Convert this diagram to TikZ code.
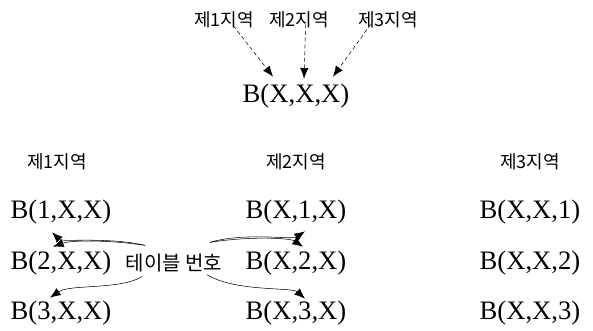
\documentclass[tikz,border=0pt]{standalone}
\usepackage{fontspec}
\setmainfont{Liberation Serif}
\newfontfamily\hangul{Noto Sans CJK KR}
\usetikzlibrary{arrows.meta,positioning}

\begin{document}
\begin{tikzpicture}[
    x=0.75pt,y=-0.75pt,
    region/.style={inner sep=1pt,font=\hangul\fontsize{13.5}{15}\selectfont},
    bset/.style={inner sep=0pt,font=\fontsize{20}{24}\selectfont},
    darr/.style={-{Latex[length=2.8mm,width=2.2mm]},densely dashed,thin},
    carr/.style={-{Latex[length=2.8mm,width=2.2mm]},thin}
  ]
    \useasboundingbox (0,0) rectangle (593,331);
    % top: the three regions point to the full table
    \node[region] (t1) at (224,20) {제1지역};
    \node[region] (t2) at (299,20) {제2지역};
    \node[region] (t3) at (388,20) {제3지역};
    \node[bset] (top) at (296,96) {B(X,X,X)};
    \draw[darr] ([xshift=7,yshift=3]t1.south) -- ([shift={(-23,-7)}]top.north);
    \draw[darr] ([xshift=5,yshift=4]t2.south) -- ([shift={(8,-5)}]top.north);
    \draw[darr] ([xshift=-13,yshift=4]t3.south) -- ([shift={(37,-7)}]top.north);
    % column heads
    \node[region] (h1) at (57,162) {제1지역};
    \node[region] (h2) at (296,162) {제2지역};
    \node[region] (h3) at (530,162) {제3지역};
    % sub-tables
    \node[bset] (a1) at (61,212) {B(1,X,X)};
    \node[bset] (a2) at (61,263) {B(2,X,X)};
    \node[bset] (a3) at (61,313) {B(3,X,X)};
    \node[bset] (b1) at (296,212) {B(X,1,X)};
    \node[bset] (b2) at (296,263) {B(X,2,X)};
    \node[bset] (b3) at (296,313) {B(X,3,X)};
    \node[bset] (c1) at (530,212) {B(X,X,1)};
    \node[bset] (c2) at (530,263) {B(X,X,2)};
    \node[bset] (c3) at (530,313) {B(X,X,3)};
    \node[region,font=\hangul\fontsize{15}{17}\selectfont] (tbl) at (174,263) {테이블 번호};
    % table number arrows
    \draw[carr] ([shift={(-29,-7)}]tbl.north) .. controls (110,237) and (62,242) .. ([shift={(-9,8)}]a1.south);
    \draw[carr] ([shift={(-29,-7)}]tbl.north) .. controls (110,240) and (72,240) .. ([shift={(-8,-4)}]a2.north);
    \draw[carr] ([shift={(-32,3)}]tbl.south) .. controls (120,290) and (70,284) .. ([shift={(-11,-3)}]a3.north);
    \draw[carr] ([shift={(36,-10)}]tbl.north) .. controls (245,232) and (292,240) .. ([shift={(9,7)}]b1.south);
    \draw[carr] ([shift={(36,-10)}]tbl.north) .. controls (250,236) and (290,238) .. ([shift={(7,-4)}]b2.north);
    \draw[carr] ([shift={(33,1)}]tbl.south) .. controls (235,292) and (292,287) .. ([shift={(9,-2)}]b3.north);
\end{tikzpicture}
\end{document}
